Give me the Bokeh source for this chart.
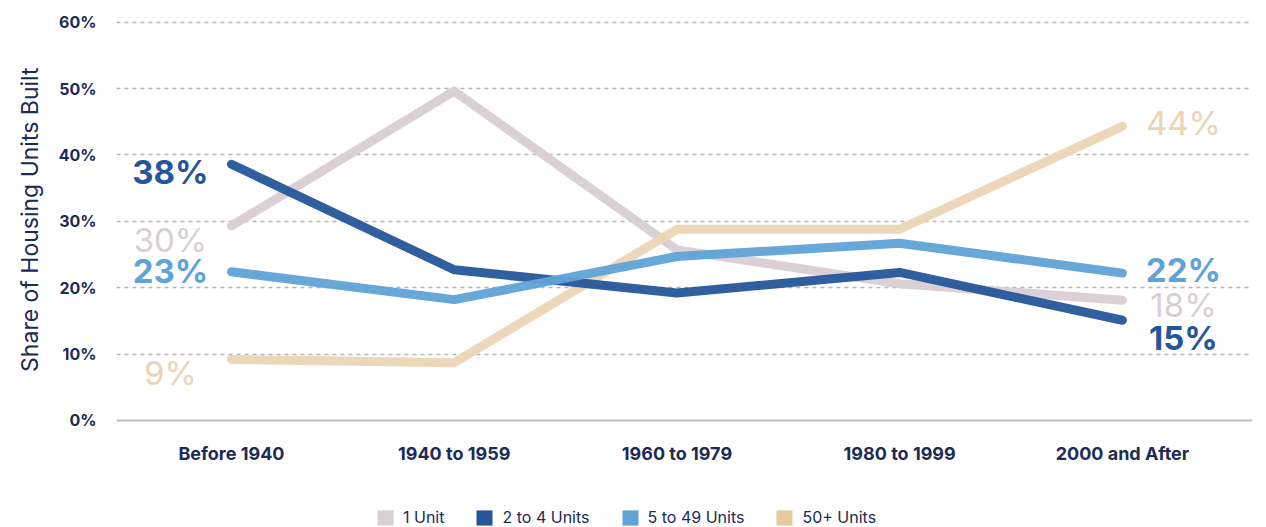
import numpy as np
from bokeh.plotting import figure
from bokeh.models import (FixedTicker, Legend, LegendItem, NumeralTickFormatter,
                          Range1d, ColumnDataSource, Span, Title)
from bokeh.embed import file_html
from bokeh.resources import INLINE

categories = ["Before 1940", "1940 to 1959", "1960 to 1979", "1980 to 1999", "2000 and After"]
one_unit = [29.3, 49.6, 25.7, 20.6, 18.1]
two_to_four = [38.6, 22.7, 19.2, 22.3, 15.1]
five_to_49 = [22.4, 18.2, 24.7, 26.7, 22.2]
fifty_plus = [9.2, 8.7, 28.8, 28.8, 44.3]
series_names = ["1 Unit", "2 to 4 Units", "5 to 49 Units", "50+ Units"]
start_labels = ["30%", "38%", "23%", "9%"]
end_labels = ["18%", "15%", "22%", "44%"]
y_ticks = [0, 10, 20, 30, 40, 50, 60]

NAVY = "#1c2b55"
FONT = "Inter"
colors = {"1 Unit": "#d9ced4", "2 to 4 Units": "#25569a",
          "5 to 49 Units": "#5fa3d7", "50+ Units": "#e6c99f"}
line_colors = {"1 Unit": "#d9ced4", "2 to 4 Units": "#25569a",
               "5 to 49 Units": "#5fa3d7", "50+ Units": "#ebd5b5"}
text_colors = {"1 Unit": "#d9ced4", "2 to 4 Units": "#25569a",
               "5 to 49 Units": "#5fa3d7", "50+ Units": "#ead4b3"}
data = {"1 Unit": one_unit, "2 to 4 Units": two_to_four,
        "5 to 49 Units": five_to_49, "50+ Units": fifty_plus}
label_bold = {"1 Unit": False, "2 to 4 Units": True, "5 to 49 Units": True, "50+ Units": False}
# pixel offsets for end labels (style)
left_off = {"1 Unit": 14, "2 to 4 Units": 8, "5 to 49 Units": -1, "50+ Units": 14}
right_off = {"1 Unit": 5, "2 to 4 Units": 18, "5 to 49 Units": -3, "50+ Units": -3}

xs = list(range(len(categories)))

# frame spans to the bottom of the figure so the legend can sit inside it
p = figure(width=1266, height=527, output_backend="svg", toolbar_location=None,
           x_range=Range1d(-0.516, 4.584), y_range=Range1d(-16.12, 61),
           min_border_left=116, min_border_right=14, min_border_top=15,
           min_border_bottom=0)
p.outline_line_color = None
p.background_fill_color = "white"

# grid
p.xgrid.grid_line_color = None
p.ygrid.ticker = FixedTicker(ticks=y_ticks[1:])
p.ygrid.grid_line_color = "#b5b5b5"
p.ygrid.grid_line_dash = "4 4"
p.ygrid.grid_line_width = 1.5

zero = Span(location=0, dimension="width", line_color="#bdbdbd", line_width=2)
p.add_layout(zero)

# axes
p.yaxis.ticker = FixedTicker(ticks=y_ticks)
p.yaxis.formatter = NumeralTickFormatter(format="0")
p.yaxis.major_label_overrides = {t: f"{t}%" for t in y_ticks}
p.yaxis.axis_line_color = None
p.yaxis.major_tick_line_color = None
p.yaxis.minor_tick_line_color = None
p.yaxis.major_label_text_font = FONT
p.yaxis.major_label_text_font_style = "bold"
p.yaxis.major_label_text_font_size = "16px"
p.yaxis.major_label_text_color = NAVY
p.yaxis.major_label_standoff = 14

ytitle = Title(text="Share of Housing Units Built", align="right", offset=52,
               text_font=FONT, text_font_style="normal", text_font_size="23px",
               text_color=NAVY, standoff=24)
p.add_layout(ytitle, "left")

p.xaxis.fixed_location = 0
p.xaxis.ticker = FixedTicker(ticks=xs)
p.xaxis.major_label_overrides = {i: c for i, c in enumerate(categories)}
p.xaxis.axis_line_color = None
p.xaxis.major_tick_line_color = None
p.xaxis.minor_tick_line_color = None
p.xaxis.major_label_text_font = FONT
p.xaxis.major_label_text_font_style = "bold"
p.xaxis.major_label_text_font_size = "18px"
p.xaxis.major_label_text_color = NAVY
p.xaxis.major_label_standoff = 17

# lines, drawn in layering order
for name in ["1 Unit", "50+ Units", "2 to 4 Units", "5 to 49 Units"]:
    vals = data[name]
    p.line(xs, vals, line_color=line_colors[name], line_width=9, line_alpha=0.95,
           line_cap="round", line_join="round")

# end labels
for i, name in enumerate(series_names):
    vals = data[name]
    fs = "bold" if label_bold[name] else "normal"
    src_l = ColumnDataSource(dict(x=[xs[0]], y=[vals[0]], t=[start_labels[i]]))
    p.text("x", "y", text="t", source=src_l, x_offset=-61, y_offset=left_off[name],
           text_align="center", text_baseline="middle", text_font_size="33px",
           text_font_style=fs, text_color=text_colors[name],
           text_font={"value": FONT})
    src_r = ColumnDataSource(dict(x=[xs[-1]], y=[vals[-1]], t=[end_labels[i]]))
    p.text("x", "y", text="t", source=src_r, x_offset=61, y_offset=right_off[name],
           text_align="center", text_baseline="middle", text_font_size="33px",
           text_font_style=fs, text_color=text_colors[name],
           text_font={"value": FONT})

# legend swatches (proxy renderers with no visible data)
items = []
for name in series_names:
    r = p.quad(left=[np.nan], right=[np.nan], top=[np.nan], bottom=[np.nan],
               fill_color=colors[name], line_color=None)
    items.append(LegendItem(label=name, renderers=[r]))

legend = Legend(items=items, orientation="horizontal", location=(259, 0),
                glyph_width=20, glyph_height=19, label_standoff=8, spacing=30,
                padding=0, margin=0, border_line_color=None, background_fill_alpha=0,
                label_text_font=FONT, label_text_font_size="16px",
                label_text_color=NAVY, label_text_font_style="normal")
p.add_layout(legend, "center")

open("out.html", "w").write(file_html(p, INLINE))
